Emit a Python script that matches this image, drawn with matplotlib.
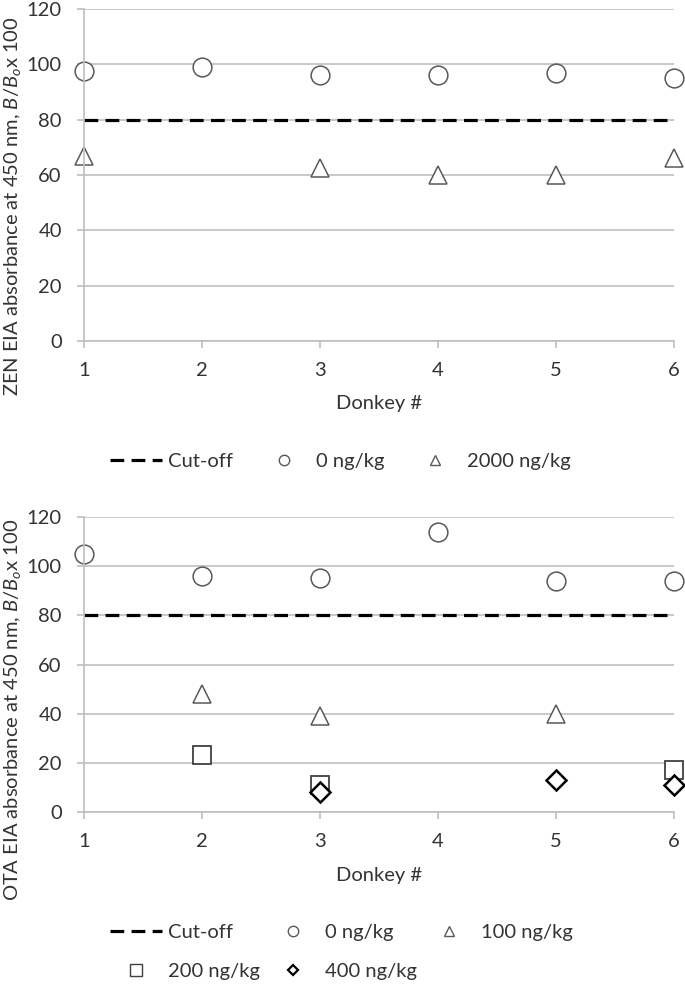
import matplotlib
matplotlib.use("Agg")
import matplotlib.pyplot as plt
from matplotlib.lines import Line2D

plt.rcParams['font.family'] = ['Lato', 'DejaVu Sans']
plt.rcParams['mathtext.fontset'] = 'custom'
plt.rcParams['mathtext.it'] = 'Lato:italic'
plt.rcParams['mathtext.rm'] = 'Lato'

donkeys = [1, 2, 3, 4, 5, 6]
cutoff = 80
zen_0 = [97.5, 99, 96, 96, 97, 95]
zen_2000 = [67, None, 62.5, 60, 60, 66]
ota_0 = [105, 96, 95, 114, 94, 94]
ota_100 = [None, 48, 39, None, 40, None]
ota_200 = [None, 23, 11, None, None, 17]
ota_400 = [None, None, 8, None, 13, 11]
yticks = [0, 20, 40, 60, 80, 100, 120]

GRAY = '#595959'
GRID = '#bfbfbf'
TXT = '#333333'
FS = 14.5

W, H = 685, 984
fig = plt.figure(figsize=(W / 100, H / 100), dpi=100)
ax1 = fig.add_axes([84 / W, 1 - 341 / H, (674 - 84) / W, (341 - 9) / H])
ax2 = fig.add_axes([84 / W, 1 - 812 / H, (674 - 84) / W, (812 - 517) / H])


def pts(xs, ys):
    px = [x for x, y in zip(xs, ys) if y is not None]
    py = [y for y in ys if y is not None]
    return px, py


def style(ax, label, ycenter_px, ax_top, ax_bot):
    ax.set_xlim(1, 6)
    ax.set_ylim(0, 120)
    ax.set_yticks(yticks)
    ax.set_xticks(donkeys)
    ax.yaxis.grid(True, color=GRID, lw=1.2)
    ax.set_axisbelow(True)
    for s in ['top', 'right']:
        ax.spines[s].set_visible(False)
    for s in ['left', 'bottom']:
        ax.spines[s].set_color(GRID)
        ax.spines[s].set_linewidth(1.2)
    ax.tick_params(axis='both', colors=GRID, labelcolor=TXT, labelsize=FS, length=5, width=1.2)
    ax.tick_params(axis='y', pad=11)
    ax.tick_params(axis='x', pad=10)
    ax.set_xlabel('Donkey #', fontsize=FS, color=TXT, labelpad=12)
    ax.set_ylabel(label, fontsize=FS, color=TXT)
    frac = (ax_bot - ycenter_px) / (ax_bot - ax_top)
    ax.yaxis.set_label_coords((23 - 84) / (674 - 84), frac)


ms = 13.5
circ = dict(marker='o', ls='none', ms=ms, mfc='white', mec=GRAY, mew=1.1, clip_on=False)
tri = dict(marker='^', ls='none', ms=ms, mfc='white', mec=GRAY, mew=1.1, clip_on=False)
sq = dict(marker='s', ls='none', ms=ms, mfc='white', mec='#404040', mew=1.3, clip_on=False)
dia = dict(marker='D', ls='none', ms=10, mfc='white', mec='black', mew=1.8, clip_on=False)
cut = dict(color='black', ls=(0, (4.3, 2.3)), lw=2.3)

# Top chart
ax1.plot(donkeys, [cutoff] * len(donkeys), **cut)
ax1.plot(*pts(donkeys, zen_0), **circ)
ax1.plot(*pts(donkeys, zen_2000), **tri)
style(ax1, 'ZEN EIA absorbance at 450 nm, $\\mathit{B/B_o}$x 100', 206, 9, 341)

h1 = [Line2D([], [], **cut),
      Line2D([], [], marker='o', ls='none', ms=7.5, mfc='white', mec=GRAY, mew=1),
      Line2D([], [], marker='^', ls='none', ms=7.5, mfc='white', mec=GRAY, mew=1)]
fig.legend(h1, ['Cut-off', '0 ng/kg', '2000 ng/kg'], loc='center left',
           bbox_to_anchor=(110 / W, 1 - 461 / H), ncol=3, frameon=False, fontsize=FS,
           labelcolor=TXT, handlelength=2.6, handletextpad=0.3, columnspacing=1.2,
           borderpad=0, borderaxespad=0)

# Bottom chart
ax2.plot(donkeys, [cutoff] * len(donkeys), **cut)
ax2.plot(*pts(donkeys, ota_0), **circ)
ax2.plot(*pts(donkeys, ota_100), **tri)
ax2.plot(*pts(donkeys, ota_200), **sq)
ax2.plot(*pts(donkeys, ota_400), **dia)
style(ax2, 'OTA EIA absorbance at 450 nm, $\\mathit{B/B_o}$x 100', 710, 517, 812)

h2 = [Line2D([], [], **cut),
      Line2D([], [], marker='s', ls='none', ms=8, mfc='white', mec='#404040', mew=1),
      Line2D([], [], marker='o', ls='none', ms=7.5, mfc='white', mec=GRAY, mew=1),
      Line2D([], [], marker='D', ls='none', ms=5.5, mfc='white', mec='black', mew=1.6),
      Line2D([], [], marker='^', ls='none', ms=7.5, mfc='white', mec=GRAY, mew=1)]
fig.legend(h2, ['Cut-off', '200 ng/kg', '0 ng/kg', '400 ng/kg', '100 ng/kg'], loc='center left',
           bbox_to_anchor=(110 / W, 1 - 952 / H), ncol=3, frameon=False, fontsize=FS,
           labelcolor=TXT, handlelength=2.6, handletextpad=0.3, columnspacing=0.3,
           labelspacing=1.1, borderpad=0, borderaxespad=0)

fig.savefig('out.png', dpi=100)
